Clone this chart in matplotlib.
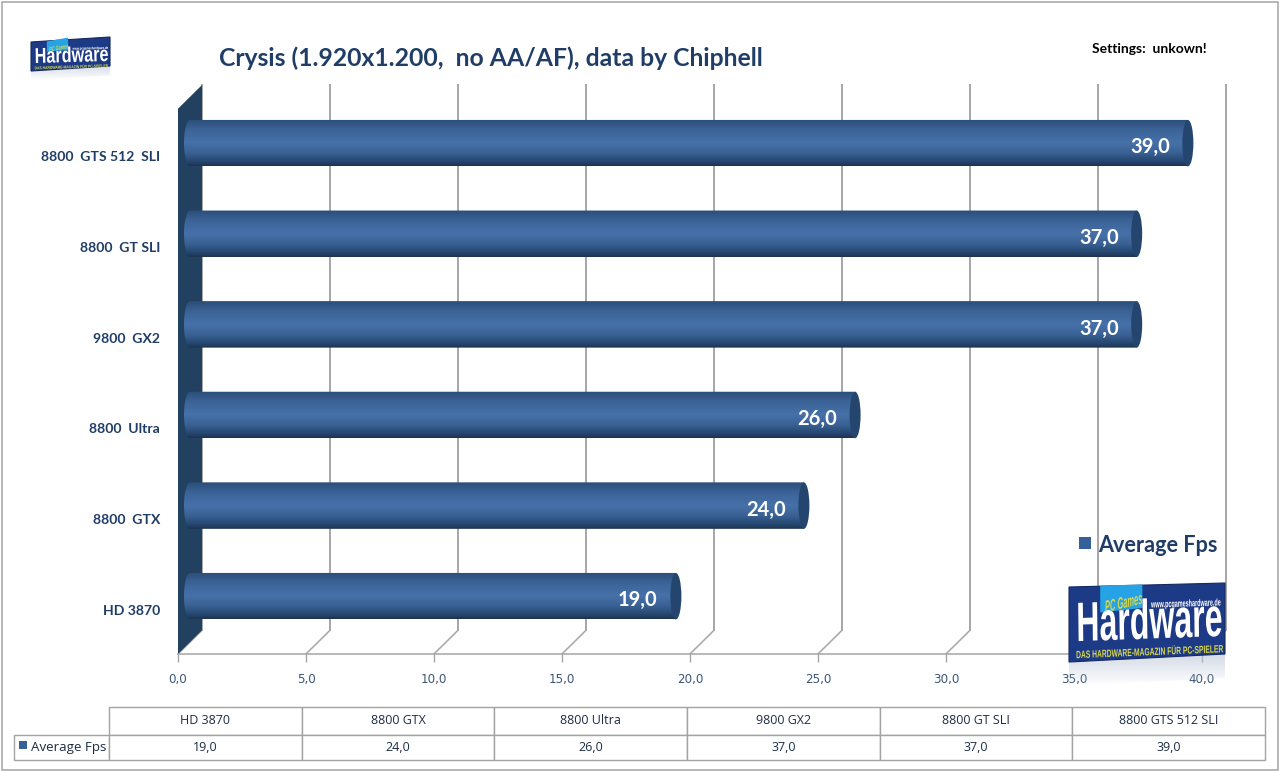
import numpy as np
import matplotlib
matplotlib.use('Agg')
import matplotlib.pyplot as plt
from matplotlib.colors import LinearSegmentedColormap
from matplotlib.patches import Ellipse, Polygon, Rectangle
from matplotlib.path import Path
from matplotlib.patheffects import AbstractPathEffect
from matplotlib.transforms import Affine2D

W, H = 1280, 771

cards = ['HD 3870', '8800 GTX', '8800 Ultra', '9800 GX2', '8800 GT SLI', '8800 GTS 512 SLI']
axis_names = ['HD 3870', '8800  GTX', '8800  Ultra', '9800  GX2', '8800  GT SLI', '8800  GTS 512  SLI']
fps = [19.0, 24.0, 26.0, 37.0, 37.0, 39.0]
xticks = [0, 5, 10, 15, 20, 25, 30, 35, 40]
series_name = 'Average Fps'
title = 'Crysis (1.920x1.200,  no AA/AF), data by Chiphell'
note = 'Settings:  unkown!'

NAVY = '#1f3d66'
GRID = '#a6a6a6'
WALL = '#22405f'
YELLOW = '#d8d84a'
bar_cmap = LinearSegmentedColormap.from_list('cyl', [
    (0.0, '#2b4d78'), (0.2, '#3a6295'), (0.5, '#4671a9'), (0.72, '#3a6194'),
    (0.9, '#264872'), (1.0, '#1d3452')])


def comma(v):
    return f'{v:.1f}'.replace('.', ',')


class Squeeze(AbstractPathEffect):
    # narrows the glyphs around a fixed pixel, the logo lettering is very condensed
    def __init__(self, x0, y0, sx):
        super().__init__()
        self.x0, self.y0, self.sx = x0, H - y0, sx

    def draw_path(self, renderer, gc, tpath, affine, rgbFace=None):
        squeeze = Affine2D().translate(-self.x0, -self.y0).scale(self.sx, 1).translate(self.x0, self.y0)
        renderer.draw_path(gc, tpath, affine + squeeze, rgbFace)


fig = plt.figure(figsize=(W / 100, H / 100), dpi=100, facecolor='white')

# plot area: x=0 at the front floor corner, category 0 at the lowest row
ax = fig.add_axes([178 / W, 1 - 654 / H, (1202 - 178) / W, (654 - 85) / H])
ax.patch.set_alpha(0)
ymin, ymax = -0.491, 5.789
depth_x, depth_y = 0.9375, 0.262
for s in ['top', 'right', 'left']:
    ax.spines[s].set_visible(False)
ax.spines['bottom'].set_color(GRID)
ax.spines['bottom'].set_linewidth(1.1)

# back wall gridlines and their floor diagonals
for t in xticks:
    ax.plot([t + depth_x, t + depth_x], [ymin + depth_y, ymax], color=GRID, lw=1.4, zorder=1, clip_on=False)
    ax.plot([t, t + depth_x], [ymin, ymin + depth_y], color=GRID, lw=1.1, zorder=1, clip_on=False)

# dark side wall
ax.add_patch(Polygon([(0, ymin), (depth_x, ymin + depth_y), (depth_x, ymax), (0, ymax - depth_y)],
                     closed=True, facecolor=WALL, edgecolor='none', zorder=2))

# cylinders
grad = np.linspace(0, 1, 64).reshape(-1, 1)
bar_h = 0.513
cap_w = 0.215
for i, v in enumerate(fps):
    yc = i + depth_y / 2 + 0.016
    x0 = depth_x / 2
    x1 = v + depth_x / 2 - 0.02
    im = ax.imshow(grad, cmap=bar_cmap, extent=(x0 - 0.235, x1, yc - bar_h / 2, yc + bar_h / 2),
                   aspect='auto', origin='upper', zorder=3, interpolation='bilinear')
    a = np.linspace(np.pi / 2, 3 * np.pi / 2, 40)
    outline = np.column_stack([x0 + 0.235 * np.cos(a), yc + bar_h / 2 * np.sin(a)])
    outline = np.vstack([outline, [x1, yc - bar_h / 2], [x1, yc + bar_h / 2]])
    im.set_clip_path(Path(np.vstack([outline, outline[0]]), closed=True), ax.transData)
    ax.add_patch(Ellipse((x1, yc), 2 * cap_w, bar_h, facecolor='#24466e', edgecolor='none', zorder=4))
    ax.annotate(comma(v), (x1, yc), xytext=(-38 * 0.72, -3.0), textcoords='offset points',
                ha='center', va='center', color='white', fontsize=14.5, fontweight='bold',
                family='Lato', zorder=5)

ax.set_xlim(0, 40)
ax.set_ylim(ymin, ymax)
ax.set_xticks(xticks)
ax.set_xticklabels([comma(t) for t in xticks], family='DejaVu Sans', fontsize=8.6, color='#3d5679')
ax.tick_params(axis='x', length=5.5, color=GRID, width=1, pad=8)
ax.set_yticks(range(len(axis_names)))
ax.set_yticklabels(axis_names, family='Lato', fontweight='bold', fontsize=10.1, color=NAVY)
ax.tick_params(axis='y', length=0, pad=13)

# everything else is placed in pixels on a full-size layer
top = fig.add_axes([0, 0, 1, 1], zorder=5)
top.set_xlim(0, W)
top.set_ylim(H, 0)
top.axis('off')
top.patch.set_alpha(0)

top.add_patch(Rectangle((1.5, 1.5), W - 3.5, H - 3, fill=False, edgecolor='#a3a3a3', lw=1.1))

top.text(219, 58, title, family='Lato', fontweight='bold', fontsize=17.8, color=NAVY, ha='left', va='center')
top.text(1092, 49, note, family='Lato', fontweight='bold', fontsize=10, color='black', ha='left', va='center')

# legend
top.add_patch(Rectangle((1079, 537), 12, 12, facecolor='#36609a', edgecolor='none'))
top.text(1098, 545, series_name, family='Lato', fontweight='bold', fontsize=15.6, color=NAVY, ha='left', va='center')


def fitted(cx, cy, s, width, size, color, rot, style='normal'):
    # logo lettering, squeezed to a given width in pixels
    t = top.text(cx, cy, s, family='Liberation Sans', fontweight='bold', style=style, color=color,
                 fontsize=size, ha='center', va='center', rotation=rot, zorder=3)
    natural = t.get_window_extent(fig.canvas.get_renderer()).width
    t.set_path_effects([Squeeze(cx, cy, width / natural)])


def logo(x0, x1, ytl, ytr, ybr, ybl):
    # magazine logo, with the faint reflection under it
    w = x1 - x0
    h = ybl - ytl
    drop = 0.32 * h
    fade = np.ones((40, 1, 4))
    fade[:, 0, 0] = 0.72
    fade[:, 0, 1] = 0.76
    fade[:, 0, 2] = 0.84
    fade[:, 0, 3] = np.linspace(0.6, 0, 40)
    refl = top.imshow(fade, extent=(x0, x1, ybl + drop, ybr), aspect='auto', zorder=1)
    refl.set_clip_path(Polygon([(x0, ybl), (x1, ybr), (x1, ybr + drop), (x0, ybl + drop)],
                               transform=top.transData))
    top.add_patch(Polygon([(x0, ytl), (x1, ytr), (x1, ybr), (x0, ybl)], closed=True,
                          facecolor='#1d3a86', edgecolor='#14295f', lw=0.8, zorder=2))
    top.add_patch(Polygon([(x0 + 0.2 * w, ytl - 0.02 * h), (x0 + 0.47 * w, ytr + 0.02 * h),
                           (x0 + 0.47 * w, ytl + 0.28 * h), (x0 + 0.2 * w, ytl + 0.34 * h)], closed=True,
                          facecolor='#25a3e6', edgecolor='none', zorder=2))
    k = w / 156
    kh = h / 75
    fitted(x0 + 0.515 * w, ytl + 0.50 * h, 'Hardware', 0.94 * w, 40 * kh, 'white', 1.2)
    fitted(x0 + 0.35 * w, ytl + 0.22 * h, 'PC Games', 38 * k, 12 * kh, YELLOW, 6, style='italic')
    fitted(x0 + 0.75 * w, ytl + 0.22 * h, 'www.pcgameshardware.de', 70 * k, 7 * kh, 'white', 1)
    fitted(x0 + 0.515 * w, ytl + 0.87 * h, 'DAS HARDWARE-MAGAZIN FÜR PC-SPIELER', 0.94 * w, 7.6 * kh, YELLOW, 1.5)


logo(1069, 1225, 587, 583, 654, 662)
logo(31, 110, 42, 37, 66, 71)

# data table under the chart
col_w = (1265 - 109) / 6 / W
tbl = top.table(cellText=[[comma(v) for v in fps]], colLabels=cards,
                colWidths=[col_w] * 6, cellLoc='center',
                bbox=[109 / W, (H - 760) / H, (1265 - 109) / W, 53 / H])
tbl.add_cell(1, -1, width=95 / W, height=25 / H, text=series_name, loc='left')
tbl.auto_set_font_size(False)
for (r, c), cell in tbl.get_celld().items():
    cell.set_edgecolor('#a3a3a3')
    cell.set_linewidth(1.0)
    cell.set_facecolor('white')
    cell.get_text().set_family('Open Sans')
    cell.get_text().set_fontsize(9)
    cell.get_text().set_color('#1c2c44')
    cell.set_height(28 / H if r == 0 else 25 / H)
    if c == -1:
        cell.PAD = 17 / 95
        cell.get_text().set_fontsize(9.6)
top.add_patch(Rectangle((19, 741), 8, 8, facecolor='#36609a', edgecolor='none', zorder=6))

fig.savefig('out.png', dpi=100)
